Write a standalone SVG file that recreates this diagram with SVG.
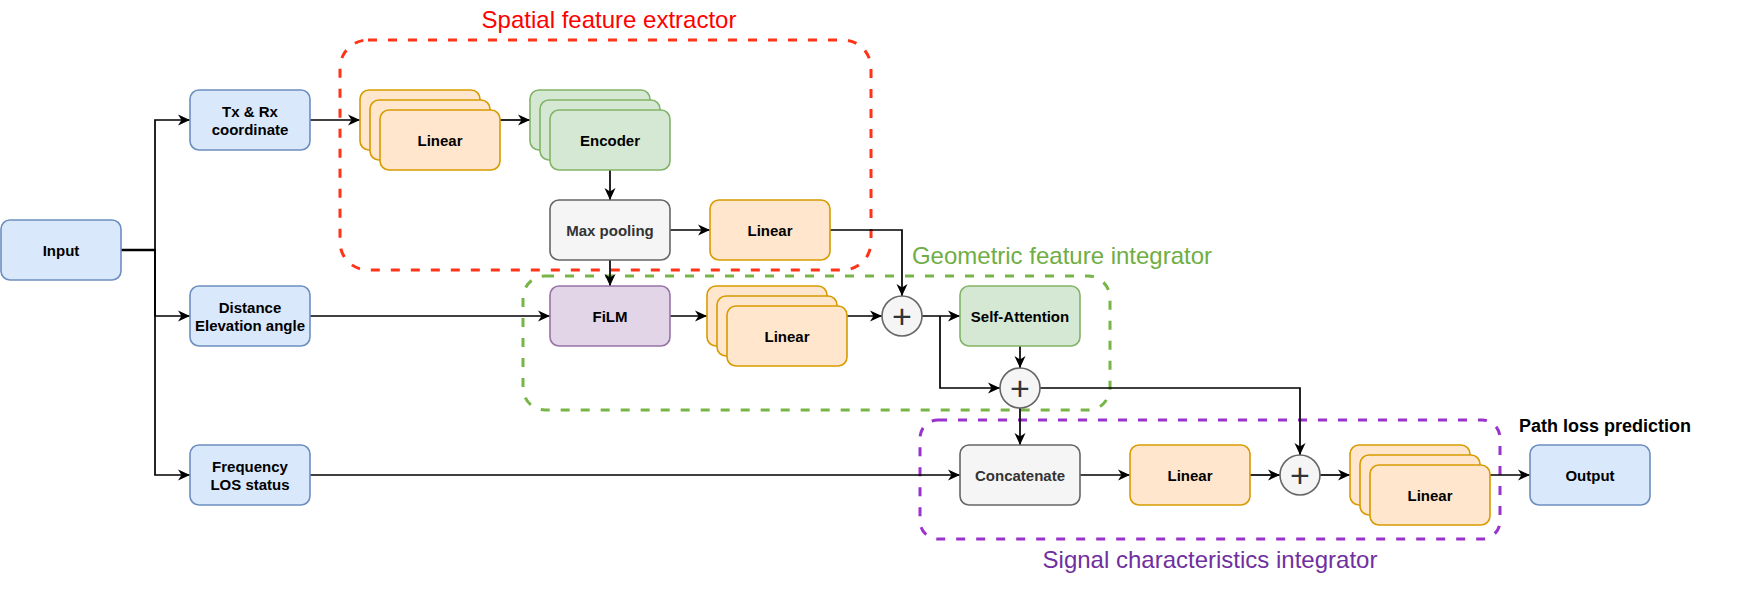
<svg xmlns="http://www.w3.org/2000/svg" width="1741" height="590" viewBox="0 0 1741 590">
<defs>
<marker id="arr" viewBox="0 0 13 13" refX="12" refY="6.5" markerWidth="13" markerHeight="13" markerUnits="userSpaceOnUse" orient="auto">
<path d="M0,1 L12,6.5 L0,12 L3.5,6.5 Z" fill="#000"/>
</marker>
<style>
text{font-family:"Liberation Sans",Arial,Helvetica,sans-serif;}
.lbl{font-size:15px;font-weight:bold;text-anchor:middle;fill:#000;}
.dk{fill:#333;}
.blue{fill:#dae8fc;stroke:#6c8ebf;stroke-width:1.6;}
.orange{fill:#ffe6cc;stroke:#d79b00;stroke-width:1.6;}
.green{fill:#d5e8d4;stroke:#82b366;stroke-width:1.6;}
.grey{fill:#f5f5f5;stroke:#666;stroke-width:1.6;}
.purple{fill:#e1d5e7;stroke:#9673a6;stroke-width:1.6;}
.sum{fill:#f5f5f5;stroke:#666;stroke-width:1.6;}
.plus{font-size:34px;text-anchor:middle;fill:#333;}
.con{fill:none;stroke:#000;stroke-width:1.7;marker-end:url(#arr);}
.conp{fill:none;stroke:#000;stroke-width:2.6;}
.grp{fill:none;stroke-width:3;stroke-dasharray:9 11;}
.title{font-size:24px;}
</style>
</defs>

<g id="group-spatial">
<rect x="340" y="40" width="531" height="230" rx="28" class="grp" stroke="#ff3318"/>
<text x="609" y="28" class="title" text-anchor="middle" fill="#ff0000">Spatial feature extractor</text>
</g>
<g id="group-geometric">
<rect x="523" y="276" width="587" height="134" rx="22" class="grp" stroke="#77b546"/>
<text x="1062" y="264" class="title" text-anchor="middle" fill="#6fae43">Geometric feature integrator</text>
</g>
<g id="group-signal">
<rect x="920" y="420" width="580" height="119" rx="18" class="grp" stroke="#9933cc"/>
<text x="1210" y="568" class="title" text-anchor="middle" fill="#7030a0">Signal characteristics integrator</text>
</g>

<g id="connectors">
<path class="conp" d="M121,250 H155"/>
<path class="con" d="M121,250 H155 V120 H190"/>
<path class="con" d="M121,250 H155 V316 H190"/>
<path class="con" d="M121,250 H155 V475 H190"/>
<path class="con" d="M310,120 H360"/>
<path class="con" d="M500,120 H530"/>
<path class="con" d="M610,170 V200"/>
<path class="con" d="M670,230 H710"/>
<path class="con" d="M610,260 V286"/>
<path class="con" d="M310,316 H550"/>
<path class="con" d="M670,316 H707"/>
<path class="con" d="M847,316 H882"/>
<path class="con" d="M830,230 H902 V296"/>
<path class="con" d="M922,316 H960"/>
<path class="con" d="M940,316 V388 H1000"/>
<path class="con" d="M1020,346 V368"/>
<path class="con" d="M1040,388 H1300 V455"/>
<path class="con" d="M1020,408 V445"/>
<path class="con" d="M310,475 H960"/>
<path class="con" d="M1080,475 H1130"/>
<path class="con" d="M1250,475 H1280"/>
<path class="con" d="M1320,475 H1350"/>
<path class="con" d="M1490,475 H1530"/>
</g>

<g id="input">
<rect x="1" y="220" width="120" height="60" rx="9" class="blue"/>
<text x="61" y="255.5" class="lbl">Input</text>
</g>
<g id="txrx">
<rect x="190" y="90" width="120" height="60" rx="9" class="blue"/>
<text x="250" y="116.7" class="lbl">Tx &amp; Rx</text>
<text x="250" y="134.7" class="lbl">coordinate</text>
</g>
<g id="distance">
<rect x="190" y="286" width="120" height="60" rx="9" class="blue"/>
<text x="250" y="312.7" class="lbl">Distance</text>
<text x="250" y="330.7" class="lbl">Elevation angle</text>
</g>
<g id="frequency">
<rect x="190" y="445" width="120" height="60" rx="9" class="blue"/>
<text x="250" y="471.7" class="lbl">Frequency</text>
<text x="250" y="489.7" class="lbl">LOS status</text>
</g>
<g id="linear-stack-1">
<rect x="360" y="90" width="120" height="60" rx="9" class="orange"/>
<rect x="370" y="100" width="120" height="60" rx="9" class="orange"/>
<rect x="380" y="110" width="120" height="60" rx="9" class="orange"/>
<text x="440" y="145.5" class="lbl">Linear</text>
</g>
<g id="encoder-stack">
<rect x="530" y="90" width="120" height="60" rx="9" class="green"/>
<rect x="540" y="100" width="120" height="60" rx="9" class="green"/>
<rect x="550" y="110" width="120" height="60" rx="9" class="green"/>
<text x="610" y="145.5" class="lbl">Encoder</text>
</g>
<g id="maxpool">
<rect x="550" y="200" width="120" height="60" rx="9" class="grey"/>
<text x="610" y="235.5" class="lbl dk">Max pooling</text>
</g>
<g id="linear-2">
<rect x="710" y="200" width="120" height="60" rx="9" class="orange"/>
<text x="770" y="235.5" class="lbl">Linear</text>
</g>
<g id="film">
<rect x="550" y="286" width="120" height="60" rx="9" class="purple"/>
<text x="610" y="321.5" class="lbl">FiLM</text>
</g>
<g id="linear-stack-3">
<rect x="707" y="286" width="120" height="60" rx="9" class="orange"/>
<rect x="717" y="296" width="120" height="60" rx="9" class="orange"/>
<rect x="727" y="306" width="120" height="60" rx="9" class="orange"/>
<text x="787" y="341.5" class="lbl">Linear</text>
</g>
<g id="sum-1">
<circle cx="902" cy="316" r="20" class="sum"/>
<text x="902" y="328" class="plus">+</text>
</g>
<g id="self-attention">
<rect x="960" y="286" width="120" height="60" rx="9" class="green"/>
<text x="1020" y="321.5" class="lbl">Self-Attention</text>
</g>
<g id="sum-2">
<circle cx="1020" cy="388" r="20" class="sum"/>
<text x="1020" y="400" class="plus">+</text>
</g>
<g id="concatenate">
<rect x="960" y="445" width="120" height="60" rx="9" class="grey"/>
<text x="1020" y="480.5" class="lbl dk">Concatenate</text>
</g>
<g id="linear-4">
<rect x="1130" y="445" width="120" height="60" rx="9" class="orange"/>
<text x="1190" y="480.5" class="lbl">Linear</text>
</g>
<g id="sum-3">
<circle cx="1300" cy="475" r="20" class="sum"/>
<text x="1300" y="487" class="plus">+</text>
</g>
<g id="linear-stack-5">
<rect x="1350" y="445" width="120" height="60" rx="9" class="orange"/>
<rect x="1360" y="455" width="120" height="60" rx="9" class="orange"/>
<rect x="1370" y="465" width="120" height="60" rx="9" class="orange"/>
<text x="1430" y="500.5" class="lbl">Linear</text>
</g>
<g id="output">
<rect x="1530" y="445" width="120" height="60" rx="9" class="blue"/>
<text x="1590" y="480.5" class="lbl">Output</text>
<text x="1519" y="431.5" style="font-size:18px;font-weight:bold;fill:#000">Path loss prediction</text>
</g>
</svg>
